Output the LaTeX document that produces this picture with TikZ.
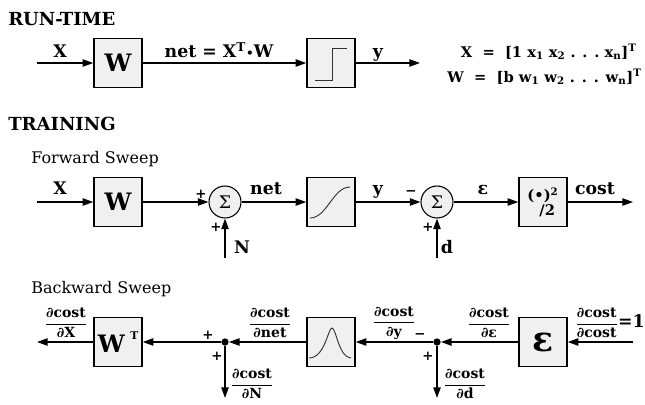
\documentclass[tikz,border=0pt]{standalone}
\usepackage{amsmath}
\usepackage{fontspec}
\setmainfont{DejaVu Serif}
\usepackage{tikz}
\usetikzlibrary{
    arrows.meta,
    positioning,
    calc
}
\tikzset{
  lbl/.style = {font=\bfseries\fontsize{13}{15}\selectfont, anchor=base,
                inner sep=0pt},
  frc/.style = {font=\bfseries\fontsize{10.5}{12}\selectfont, inner sep=0pt},
  sgn/.style = {font=\bfseries\fontsize{10}{10}\selectfont, inner sep=0pt},
  hdr/.style = {font=\bfseries\fontsize{13.5}{15}\selectfont,
                anchor=base west, inner sep=0pt},
  sub/.style = {font=\fontsize{12}{14}\selectfont, anchor=base west,
                inner sep=0pt},
  eqn/.style = {font=\bfseries\fontsize{11}{13}\selectfont, anchor=base east,
                inner sep=0pt},
  crv/.style = {line width=0.7pt, black!80}
}
\newcommand{\pd}[2]{$\dfrac{\text{∂#1}}{\text{∂#2}}$}

\begin{document}
\begin{tikzpicture}[
  x=0.75pt, y=0.75pt,
  blk/.style={draw, fill=gray!12, line width=1.1pt, minimum width=36pt,
              minimum height=36.5pt, inner sep=0pt,
              font=\bfseries\fontsize{18}{18}\selectfont},
  sum/.style={draw, circle, fill=gray!12, line width=0.8pt,
              minimum size=24pt, inner sep=0pt,
              font=\fontsize{13}{13}\selectfont},
  jn/.style={circle, fill=black, minimum size=5.5pt, inner sep=0pt},
  arr/.style={-{Triangle[length=8pt, width=5.5pt]}, line width=1.1pt}
]
\useasboundingbox (0,0) rectangle (645,-404);

% run-time
\node[hdr] (hrt) at (8,-25) {RUN-TIME};
\coordinate (rin) at (37,-63);
\node[blk] (rw) at (118,-63) {W};
\node[blk] (rstep) at (331,-63) {};
\coordinate (rout) at (420,-63);

\draw[arr] (rin)   -- (rw);
\draw[arr] (rw)    -- (rstep);
\draw[arr] (rstep) -- (rout);
\draw[crv] ($(rstep)+(-16,-17)$) -- ++(17,0) -- ++(0,32) -- ++(15,0);

\node[lbl] (rx) at (60,-57) {X};
\node[lbl] (rnet) at (219,-57) {net = X\textsuperscript{T}{\fontsize{9}{9}\selectfont •}W};
\node[lbl] (ry) at (378,-57) {y};
\node[eqn] (eqx) at (637,-57)
  {X\ \ =\ \ [1 x\textsubscript{1} x\textsubscript{2} . . .\ x\textsubscript{n}]\textsuperscript{T}};
\node[eqn] (eqw) at (642,-82)
  {W\ \ =\ \ [b\ w\textsubscript{1} w\textsubscript{2} . . . w\textsubscript{n}]\textsuperscript{T}};

% training
\node[hdr] (htr) at (8,-130) {TRAINING};
\node[sub] (hfw) at (31,-163) {Forward Sweep};
\coordinate (fin) at (37,-202);
\node[blk] (fw) at (118,-202) {W};
\node[sum] (fs1) at (225,-202) {Σ};
\node[blk] (fsig) at (331,-202) {};
\node[sum] (fs2) at (437,-202) {Σ};
\node[blk, font=\bfseries\fontsize{11}{12}\selectfont, align=left] (fsq)
  at (543,-202) {(•)\textsuperscript{2}\\[-1pt]\hspace*{9pt}/2};
\coordinate (fout) at (633,-202);
\coordinate (fn) at (225,-258);
\coordinate (fd) at (437,-258);

\draw[arr] (fin)  -- (fw);
\draw[arr] (fw)   -- (fs1);
\draw[arr] (fs1)  -- (fsig);
\draw[arr] (fsig) -- (fs2);
\draw[arr] (fs2)  -- (fsq);
\draw[arr] (fsq)  -- (fout);
\draw[arr] (fn)   -- (fs1);
\draw[arr] (fd)   -- (fs2);
\draw[crv] ($(fsig)+(-21,-16)$) .. controls ($(fsig)+(-4,-16)$) and ($(fsig)+(2,15)$) .. ($(fsig)+(19,15)$);

\node[lbl] (fx) at (60,-194) {X};
\node[lbl] (fnet) at (266,-194) {net};
\node[lbl] (fy) at (378,-194) {y};
\node[lbl] (fe) at (483,-194) {ε};
\node[lbl] (fc) at (595,-194) {cost};
\node[lbl] (fnl) at (242,-253) {N};
\node[lbl] (fdl) at (447,-253) {d};
\node[sgn] (p1) at (201,-194) {+};
\node[sgn] (p2) at (216,-227) {+};
\node[sgn] (m1) at (411,-193) {−};
\node[sgn] (p3) at (428,-227) {+};

\node[sub] (hbw) at (31,-293) {Backward Sweep};
\coordinate (bout) at (37,-342);
\node[blk] (bw) at (118,-342) {W\raisebox{10pt}{\fontsize{8}{8}\selectfont\ \,T}};
\node[jn] (bj1) at (225,-342) {};
\node[blk] (bgau) at (331,-342) {};
\node[jn] (bj2) at (437,-342) {};
\node[blk, font=\bfseries\fontsize{26}{26}\selectfont] (beps) at (543,-342) {ε};
\coordinate (bin) at (633,-342);
\coordinate (bn) at (225,-398);
\coordinate (bd) at (437,-398);

\draw[arr] (bin)  -- (beps);
\draw[arr] (beps) -- (bj2);
\draw[arr] (bj2)  -- (bgau);
\draw[arr] (bgau) -- (bj1);
\draw[arr] (bj1)  -- (bw);
\draw[arr] (bw)   -- (bout);
\draw[arr] (bj1)  -- (bn);
\draw[arr] (bj2)  -- (bd);
\draw[crv] ($(bgau)+(-22,-16)$) .. controls ($(bgau)+(-6,-16)$) and ($(bgau)+(-3,14)$) .. ($(bgau)+(1,14)$)
  .. controls ($(bgau)+(5,14)$) and ($(bgau)+(8,-16)$) .. ($(bgau)+(20,-16)$);

\node[frc] (gx) at (66,-323) {\pd{cost}{X}};
\node[frc] (gnet) at (270,-323) {\pd{cost}{net}};
\node[frc] (gn) at (252,-384) {\pd{cost}{N}};
\node[frc] (gy) at (394,-323) {\pd{cost}{y}};
\node[frc] (ge) at (489,-323) {\pd{cost}{ε}};
\node[frc] (gc) at (610,-323) {\pd{cost}{cost}{\fontsize{13}{13}\selectfont =1}};
\node[frc] (gd) at (465,-384) {\pd{cost}{d}};
\node[sgn] (p4) at (208,-335) {+};
\node[sgn] (p5) at (217,-356) {+};
\node[sgn] (m2) at (420,-336) {−};
\node[sgn] (p6) at (428,-356) {+};

\end{tikzpicture}
\end{document}
